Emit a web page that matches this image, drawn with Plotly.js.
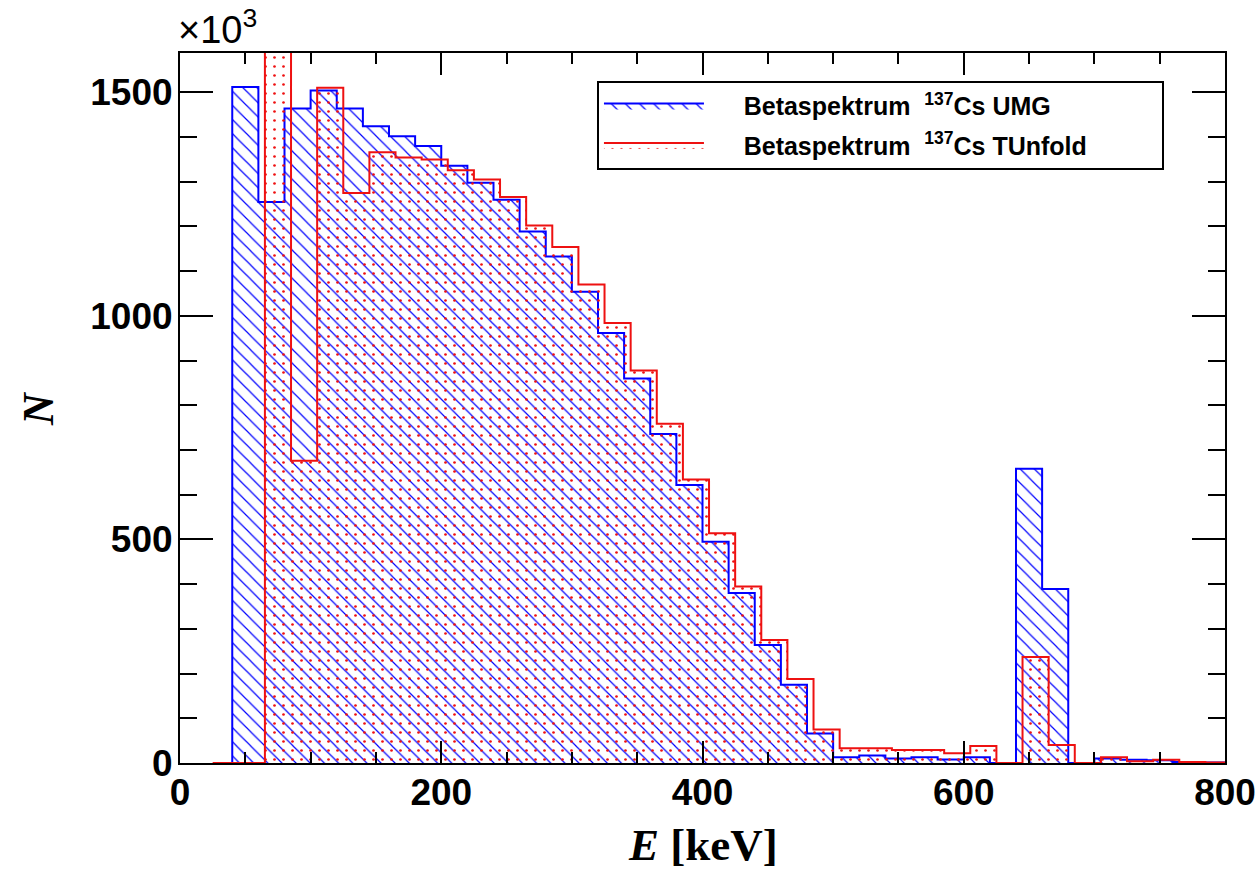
<!DOCTYPE html>
<html>
<head>
<meta charset="utf-8">
<script src="https://cdn.plot.ly/plotly-3.0.1.min.js"></script>
<style>html,body{margin:0;padding:0;background:#fff;}#chart{width:1260px;height:885px;}</style>
</head>
<body>
<div id="chart"></div>
<script>
// ---- data (N in units of 10^3) ----
var umgFirstEdge = 40;      // keV, lower edge of first UMG bin
var umgBinWidth = 20;       // keV
var umgValues = [1512, 1255, 1464, 1504, 1464, 1424, 1402, 1380, 1336, 1298,
                 1260, 1189, 1133, 1054, 962, 860, 736, 622, 495, 380,
                 264, 175, 66, 13, 17, 10, 13, 8, 13, 0,
                 658, 389, 0, 10, 7, 6, 2, 1];

var tunfFirstEdge = 25;     // keV, lower edge of first TUnfold bin
var tunfBinWidth = 20;      // keV
var tunfValues = [0, 0, 1800, 676, 1510, 1275, 1366, 1354, 1350, 1326,
                  1305, 1266, 1202, 1154, 1070, 984, 878, 759, 634, 514,
                  395, 275, 188, 75, 33, 33, 29, 29, 22, 38,
                  0, 237, 40, 0, 13, 4, 7, 2, 1];

var NB = '\u00A0';
var seriesNames = [NB.repeat(5) + "Betaspektrum" + NB + NB + "<sup>137</sup>Cs UMG",
                   NB.repeat(5) + "Betaspektrum" + NB + NB + "<sup>137</sup>Cs TUnfold" + NB.repeat(10)];
var xTickVals = [0, 200, 400, 600, 800];
var yTickVals = [0, 500, 1000, 1500];

// ---- build step outlines from bins ----
function steps(first, width, vals) {
  var xs = [first], ys = [0];
  for (var i = 0; i < vals.length; i++) { xs.push(first + i * width); ys.push(vals[i]); }
  xs.push(first + vals.length * width); ys.push(0);
  return {x: xs, y: ys};
}
var sU = steps(umgFirstEdge, umgBinWidth, umgValues);
var sT = steps(tunfFirstEdge, tunfBinWidth, tunfValues);

var traces = [
  {
    type: 'scatter', mode: 'lines', x: sU.x, y: sU.y, name: seriesNames[0],
    line: {shape: 'hv', color: '#0000ff', width: 2},
    fill: 'tozeroy', fillcolor: 'rgba(0,0,0,0)',
    fillpattern: {shape: '\\', fgcolor: '#0000ff', bgcolor: 'rgba(0,0,0,0)', fillmode: 'replace', size: 10, solidity: 0.12},
    legendgroup: 'a', hoverinfo: 'skip'
  },
  {
    type: 'scatter', mode: 'lines', x: sT.x, y: sT.y, name: seriesNames[1],
    line: {shape: 'hv', color: '#ee1111', width: 2},
    fill: 'tozeroy', fillcolor: 'rgba(0,0,0,0)',
    fillpattern: {shape: '.', fgcolor: '#ee1111', bgcolor: 'rgba(0,0,0,0)', fillmode: 'replace', size: 9, solidity: 0.07},
    legendgroup: 'b', hoverinfo: 'skip'
  }
];

var tickFont = {family: 'Liberation Sans, Arial, sans-serif', size: 37, color: '#000', weight: 'bold'};

var layout = {
  width: 1260, height: 885,
  margin: {l: 180, r: 35, t: 53, b: 122},
  paper_bgcolor: '#fff', plot_bgcolor: '#fff',
  showlegend: true,
  legend: {
    x: 0.399, y: 0.961, xanchor: 'left', yanchor: 'top',
    bordercolor: '#000', borderwidth: 2, bgcolor: '#fff',
    font: {family: 'Liberation Sans, Arial, sans-serif', size: 25, color: '#000', weight: 'bold'},
    itemwidth: 100, tracegroupgap: 4, traceorder: 'grouped'
  },
  xaxis: {
    range: [0, 800], showgrid: false, zeroline: false,
    showline: true, linecolor: '#000', linewidth: 2, mirror: 'ticks',
    ticks: 'inside', ticklen: 22, tickwidth: 2, tickcolor: '#000',
    tickvals: xTickVals, ticktext: xTickVals.map(String),
    minor: {dtick: 50, ticks: 'inside', ticklen: 11, tickwidth: 2, tickcolor: '#000'},
    tickfont: tickFont, ticklabelstandoff: -4
  },
  yaxis: {
    range: [0, 1588], showgrid: false, zeroline: false,
    showline: true, linecolor: '#000', linewidth: 2, mirror: 'ticks',
    ticks: 'inside', ticklen: 33, tickwidth: 2, tickcolor: '#000',
    tickvals: yTickVals, ticktext: yTickVals.map(String),
    minor: {dtick: 100, ticks: 'inside', ticklen: 17, tickwidth: 2, tickcolor: '#000'},
    tickfont: tickFont, ticklabelstandoff: -2
  },
  annotations: [
    {text: '<i>E</i> [keV]', xref: 'paper', yref: 'paper', x: 0.5, y: -0.115, xanchor: 'center', yanchor: 'middle',
     showarrow: false, font: {family: 'Liberation Serif, Times New Roman, serif', size: 45, color: '#000', weight: 'bold'}},
    {text: '<i>N</i>', xref: 'paper', yref: 'paper', x: -0.136, y: 0.5, xanchor: 'center', yanchor: 'middle',
     textangle: -90, showarrow: false, font: {family: 'Liberation Serif, Times New Roman, serif', size: 44, color: '#000', weight: 'bold'}},
    {text: '\u00D710<sup>3</sup>', xref: 'paper', yref: 'paper', x: -0.004, y: 1.0, xanchor: 'left', yanchor: 'bottom',
     showarrow: false, font: {family: 'Liberation Sans, Arial, sans-serif', size: 38, color: '#000'}}
  ]
};

Plotly.newPlot('chart', traces, layout, {displayModeBar: false, staticPlot: true});
</script>
</body>
</html>
